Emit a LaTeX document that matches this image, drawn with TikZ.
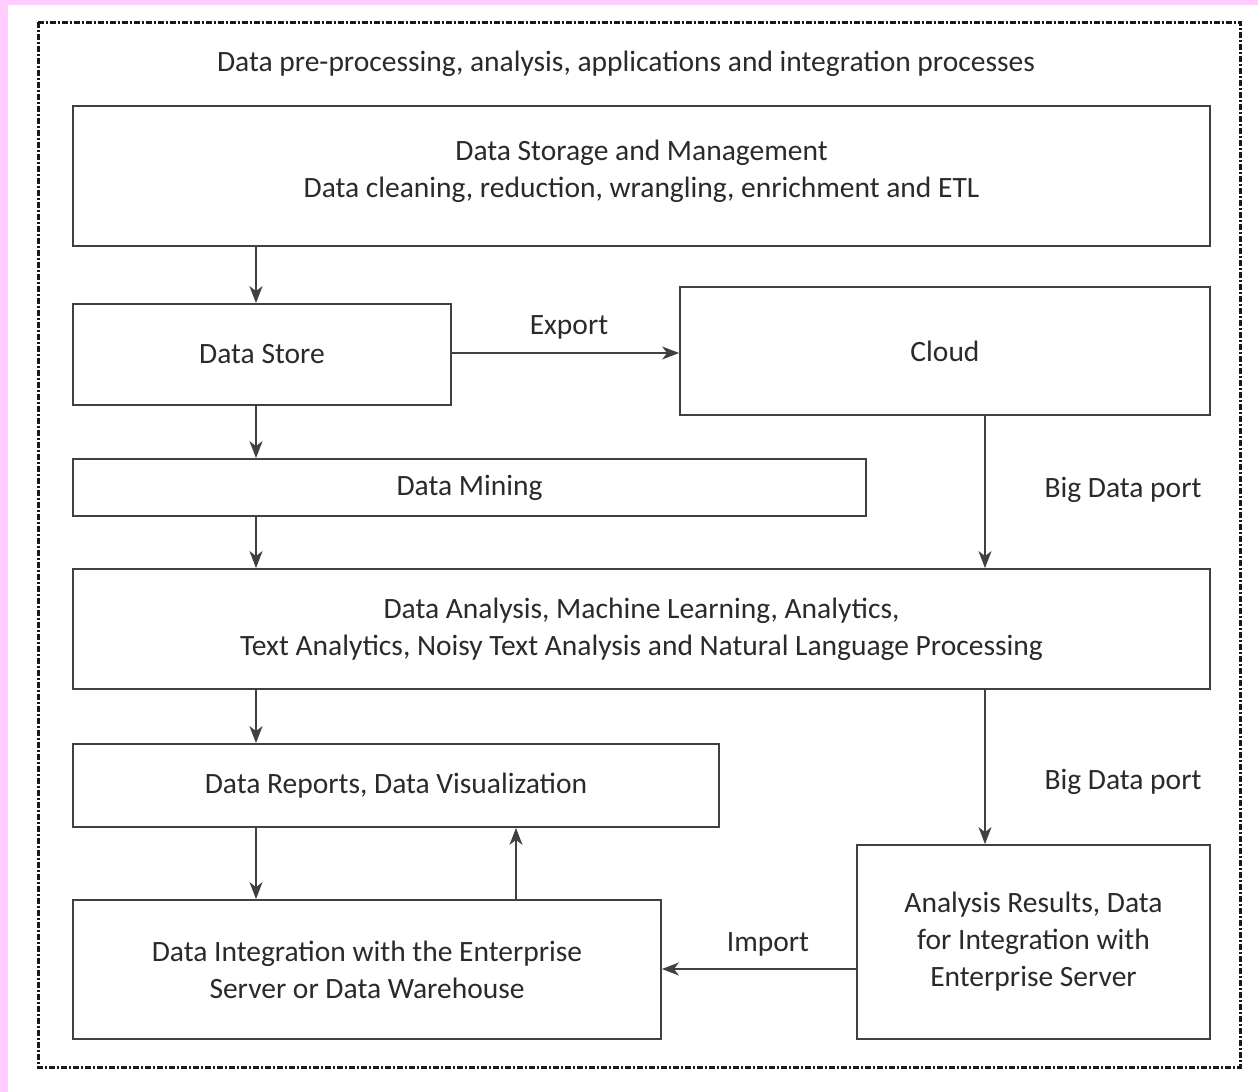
\documentclass[tikz,border=0pt]{standalone}
\usepackage{fontspec}
\setmainfont{Carlito}
\usetikzlibrary{arrows.meta}
\definecolor{pinkbg}{HTML}{FFCCFF}
\definecolor{ln}{HTML}{404040}
\definecolor{tx}{HTML}{2A2A2A}
\begin{document}
\begin{tikzpicture}[x=1pt,y=-1pt,
  box/.style={draw=ln,line width=1.8pt,fill=white,inner sep=0pt,align=center,text=tx,font=\fontsize{29.5}{37}\selectfont},
  lbl/.style={text=tx,font=\fontsize{29.5}{37}\selectfont,inner sep=0pt,align=center},
  arr/.style={draw=ln,line width=1.5pt,-{Stealth[length=17pt,width=13pt,inset=5pt]}}]
\useasboundingbox (0,0) rectangle (1258,1092);
\fill[pinkbg] (0,0) rectangle (1258,1092);
\fill[white] (8,5) rectangle (1258,1092);
\draw[line width=3pt,black!90,dash pattern=on 6pt off 2pt on 2pt off 2pt] (38,22) rectangle (1240,1067);
\node[lbl] (title) at (626,64) {Data pre-processing, analysis, applications and integration processes};
\node[box,minimum width=1137pt,minimum height=140pt] (dsm) at (641.5,176) {};
\node[lbl] (dsmtext) at (641.5,171) {Data Storage and Management\\Data cleaning, reduction, wrangling, enrichment and ETL};
\node[box,minimum width=378pt,minimum height=101pt] (ds) at (262,354.5) {Data Store};
\node[box,minimum width=530pt,minimum height=128pt] (cloud) at (945,351) {Cloud};
\node[box,minimum width=793pt,minimum height=57pt] (dm) at (469.5,487.5) {Data Mining};
\node[box,minimum width=1137pt,minimum height=120pt] (da) at (641.5,629) {Data Analysis, Machine Learning, Analytics,\\Text Analytics, Noisy Text Analysis and Natural Language Processing};
\node[box,minimum width=646pt,minimum height=83pt] (dr) at (396,785.5) {Data Reports, Data Visualization};
\node[box,minimum width=353pt,minimum height=194pt] (ar) at (1033.5,942) {Analysis Results, Data\\for Integration with\\Enterprise Server};
\node[box,minimum width=588pt,minimum height=139pt] (di) at (367,969.5) {Data Integration with the Enterprise\\Server or Data Warehouse};
\coordinate (xl) at (256,0);
\coordinate (xu) at (516,0);
\coordinate (xr) at (985,0);
\draw[arr] (dsm.south -| xl) -- (ds.north -| xl);
\draw[arr] (ds.south -| xl) -- (dm.north -| xl);
\draw[arr] (dm.south -| xl) -- (da.north -| xl);
\draw[arr] (da.south -| xl) -- (dr.north -| xl);
\draw[arr] (dr.south -| xl) -- (di.north -| xl);
\draw[arr] (di.north -| xu) -- (dr.south -| xu);
\draw[arr] (ds.east |- 0,353) -- (cloud.west |- 0,353);
\node[lbl] (exp) at (569,327) {Export};
\draw[arr] (cloud.south -| xr) -- (da.north -| xr);
\node[lbl] (bdp1) at (1123,490) {Big Data port};
\draw[arr] (da.south -| xr) -- (ar.north -| xr);
\node[lbl] (bdp2) at (1123,782) {Big Data port};
\draw[arr] (ar.west |- 0,969) -- (di.east |- 0,969);
\node[lbl] (imp) at (768,944) {Import};
\end{tikzpicture}
\end{document}
